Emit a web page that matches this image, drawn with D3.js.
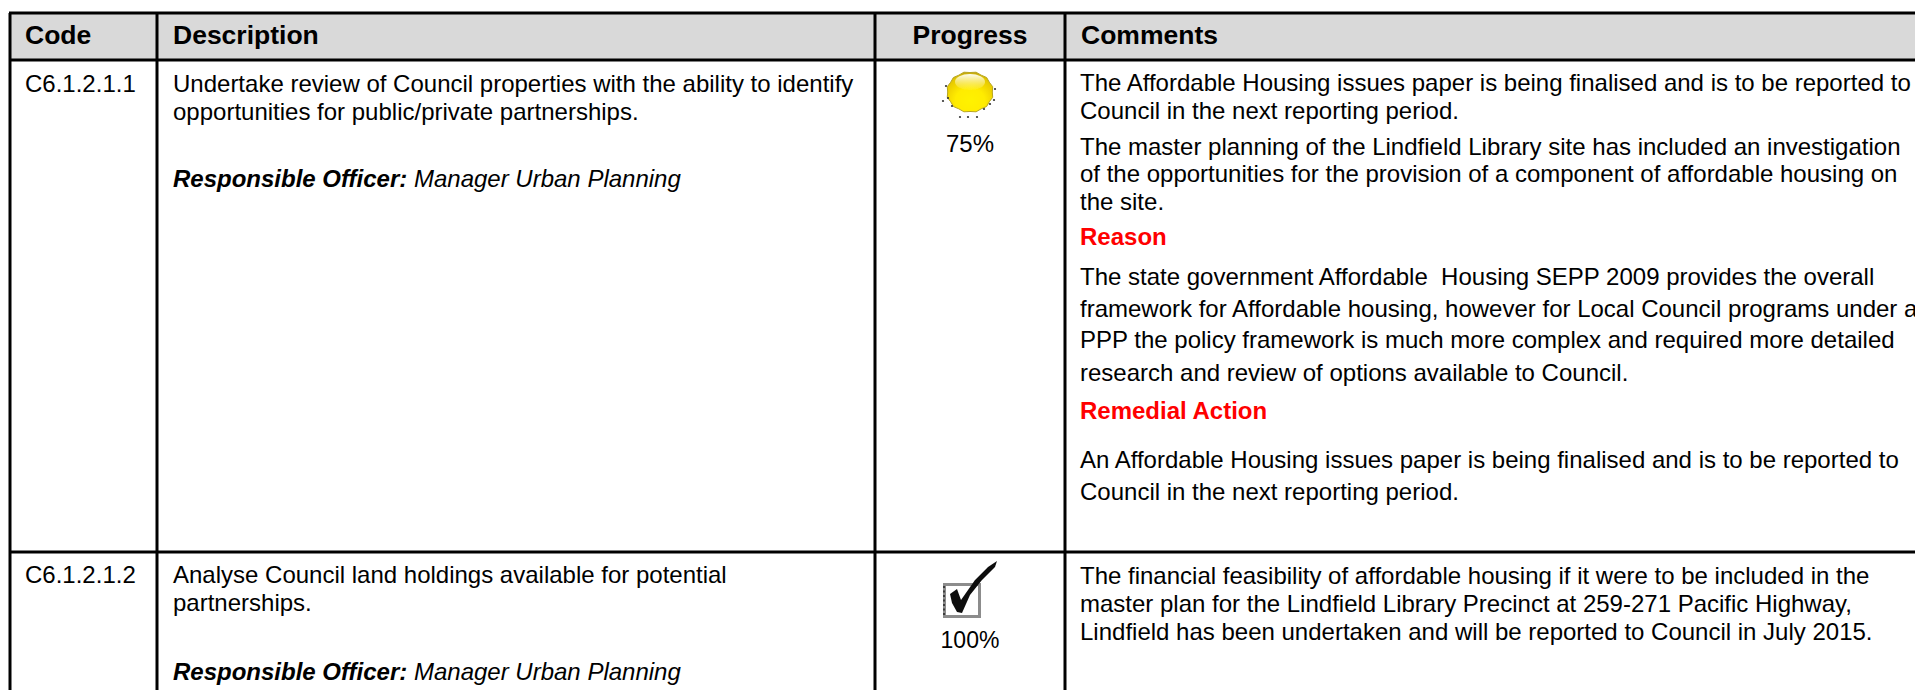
<!DOCTYPE html>
<html><head><meta charset="utf-8">
<script src="https://cdn.jsdelivr.net/npm/d3@7/dist/d3.min.js"></script>
<style>html,body{margin:0;padding:0;background:#fff;overflow:hidden}svg{display:block}text{font-family:"Liberation Sans",Arial,sans-serif;fill:#000}</style>
</head><body><svg id="c" width="1915" height="690"></svg>
<script>
// ---- data ----
const headers = ["Code","Description","Progress","Comments"];
const codes = ["C6.1.2.1.1","C6.1.2.1.2"];
const progress = [75,100];
const descriptions = [
 ["Undertake review of Council properties with the ability to identify","opportunities for public/private partnerships."],
 ["Analyse Council land holdings available for potential","partnerships."]
];
const officerLabel = "Responsible Officer:";
const officerName = " Manager Urban Planning";
const comments = [
 [["The Affordable Housing issues paper is being finalised and is to be reported to",0],
  ["Council in the next reporting period.",0],
  ["The master planning of the Lindfield Library site has included an investigation",0],
  ["of the opportunities for the provision of a component of affordable housing on",0],
  ["the site.",0],
  ["Reason",1],
  ["The state government Affordable  Housing SEPP 2009 provides the overall",0],
  ["framework for Affordable housing, however for Local Council programs under a",0],
  ["PPP the policy framework is much more complex and required more detailed",0],
  ["research and review of options available to Council.",0],
  ["Remedial Action",1],
  ["An Affordable Housing issues paper is being finalised and is to be reported to",0],
  ["Council in the next reporting period.",0]],
 [["The financial feasibility of affordable housing if it were to be included in the",0],
  ["master plan for the Lindfield Library Precinct at 259-271 Pacific Highway,",0],
  ["Lindfield has been undertaken and will be reported to Council in July 2015.",0]]
];
// ---- layout ----
const colEdges=[10,157,875,1065,1920], rowEdges=[13,60,552,700];
const commentY=[[91,119,155,182,210,245,285,317,348,381,419,468,500],[584,612,640]];
const descY=[[92,120,187],[583,611,680]];
const codeY=[92,583], pctY=[152,648];
const FS=24;

const svg=d3.select("#c");
svg.style("background","#fff");
const x=d3.scaleOrdinal().domain(headers).range(colEdges.slice(0,4));
const cx=(x(headers[2])+colEdges[3])/2;
svg.append("rect").attr("x",colEdges[0]).attr("y",rowEdges[0]).attr("width",1915-colEdges[0]).attr("height",rowEdges[1]-rowEdges[0]).attr("fill","#d9d9d9");

// gridlines
const lw=3;
svg.selectAll("line.h").data(rowEdges.slice(0,3)).join("line").attr("class","h")
 .attr("x1",colEdges[0]-1).attr("x2",1915).attr("y1",d=>d).attr("y2",d=>d).attr("stroke","#000").attr("stroke-width",lw);
svg.selectAll("line.v").data(colEdges.slice(0,4)).join("line").attr("class","v")
 .attr("x1",d=>d).attr("x2",d=>d).attr("y1",rowEdges[0]).attr("y2",690).attr("stroke","#000").attr("stroke-width",lw);

// header
svg.selectAll("text.hd").data(headers).join("text").attr("class","hd")
 .attr("x",d=>d==="Progress"?cx:x(d)+(d==="Code"?15:16)).attr("y",44)
 .attr("text-anchor",d=>d==="Progress"?"middle":"start")
 .attr("font-weight","bold").attr("font-size",26.5).text(d=>d);

// codes
svg.selectAll("text.code").data(codes).join("text").attr("class","code")
 .attr("x",25).attr("y",(d,i)=>codeY[i]).attr("font-size",FS).text(d=>d);

// descriptions
descriptions.forEach((ls,r)=>{
 ls.forEach((t,i)=>svg.append("text").attr("x",173).attr("y",descY[r][i]).attr("font-size",FS).text(t));
 const o=svg.append("text").attr("x",173).attr("y",descY[r][2]).attr("font-size",FS).attr("font-style","italic");
 o.append("tspan").attr("font-weight","bold").text(officerLabel);
 o.append("tspan").text(officerName);
});

// comments
comments.forEach((ls,r)=>{
 svg.selectAll("text.cm"+r).data(ls).join("text").attr("class","cm"+r)
  .attr("x",1080).attr("y",(d,i)=>commentY[r][i]).style("white-space","pre")
  .attr("font-size",FS).attr("font-weight",d=>d[1]?"bold":"normal").style("fill",d=>d[1]?"#ff0000":"#000").text(d=>d[0]);
});

// progress labels
svg.selectAll("text.pct").data(progress).join("text").attr("class","pct")
 .attr("x",cx).attr("y",(d,i)=>pctY[i]).attr("text-anchor","middle").attr("font-size",(d,i)=>i?23:24).text(d=>d+"%");

// icons
const defs=svg.append("defs");
defs.append("filter").attr("id","soft").append("feGaussianBlur").attr("stdDeviation",.55);
const g=defs.append("radialGradient").attr("id","sun").attr("cx",.5).attr("cy",.72).attr("r",.72);
[[0,"#fff200"],[.45,"#ffec00"],[.72,"#f0d400"],[.9,"#e2c600"],[1,"#b89f10"]].forEach(s=>g.append("stop").attr("offset",s[0]).attr("stop-color",s[1]));
const hl=defs.append("linearGradient").attr("id","hl").attr("x1",0).attr("y1",0).attr("x2",0).attr("y2",1);
[[0,"#ffffff",.95],[1,"#fff9a0",.1]].forEach(s=>hl.append("stop").attr("offset",s[0]).attr("stop-color",s[1]).attr("stop-opacity",s[2]));

const sun=svg.append("g").attr("transform",`translate(${cx},92)`).attr("filter","url(#soft)");
const sunRim=d3.range(0,360,15).map((a,i)=>{const t=a*Math.PI/180,k=i%2?1:.95;return [23.5*k*Math.cos(t),20.5*k*Math.sin(t)];});
sun.append("path").attr("d",d3.line()(sunRim)+"Z").attr("fill","url(#sun)").attr("stroke","#b8a520").attr("stroke-width",1);
sun.append("ellipse").attr("cy",-10).attr("rx",15).attr("ry",8).attr("fill","url(#hl)");
const sunDots=[[-27,9],[-22,6],[-24,-6],[-18,14],[-10,25],[-2,25],[7,25],[14,17],[20,12],[24,8],[25,-3]];
sun.selectAll("circle").data(sunDots).join("circle").attr("cx",d=>d[0]).attr("cy",d=>d[1]).attr("r",1.1).attr("fill","#333");

const ck=svg.append("g").attr("transform",`translate(${cx},555)`).attr("filter","url(#soft)");
ck.append("rect").attr("x",-25.5).attr("y",29.5).attr("width",35).attr("height",32).attr("fill","#fff").attr("stroke","#8c8c8c").attr("stroke-width",3);
ck.append("line").attr("x1",-26).attr("x2",-26).attr("y1",31).attr("y2",60).attr("stroke","#222").attr("stroke-width",1.5).attr("stroke-dasharray","2 2.5");
const checkShape=[[-20,39],[-13,34],[-9,45],[5,25],[18,12],[27,6],[25,12],[12,25],[0,40],[-8,58],[-13,57],[-18,48]];
ck.append("path").attr("d",d3.line()(checkShape)+"Z").attr("fill","#111");
</script></body></html>
